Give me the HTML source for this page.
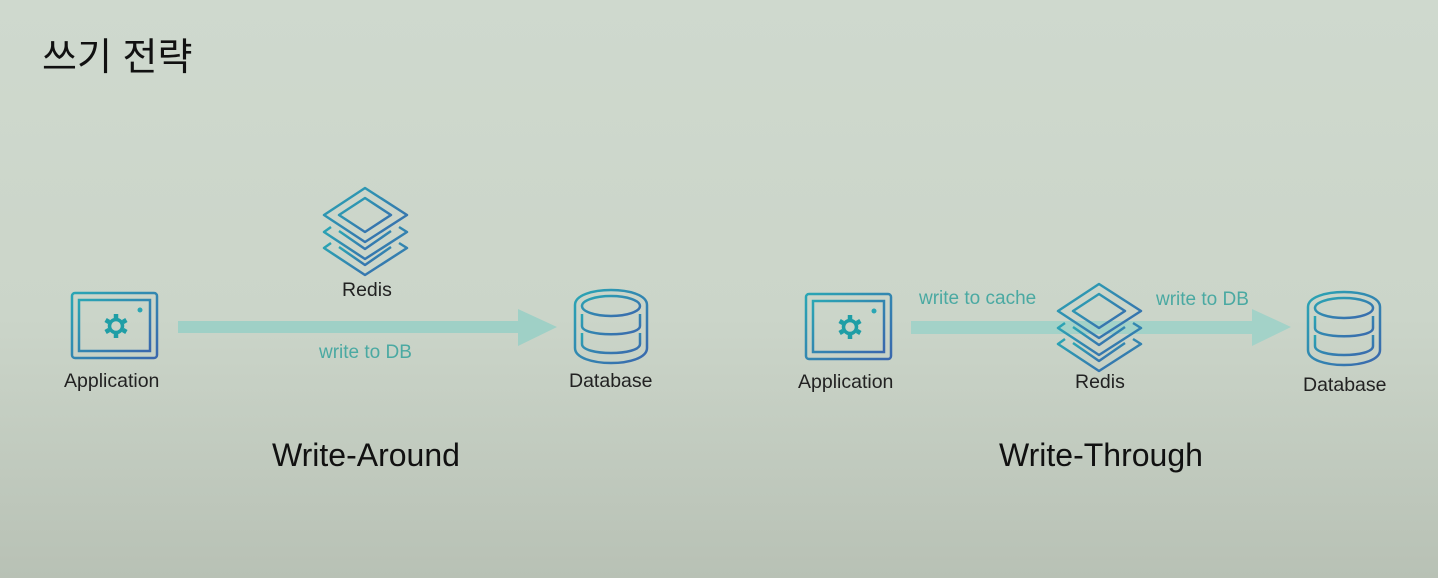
<!DOCTYPE html>
<html><head><meta charset="utf-8"><style>
html,body{margin:0;padding:0}
body{width:1438px;height:578px;overflow:hidden;background:linear-gradient(180deg,#cfd9ce 0%,#cbd5c9 55%,#b8c1b5 100%);font-family:"Liberation Sans","Noto Sans CJK KR",sans-serif;position:relative}
.t{position:absolute;white-space:nowrap}
.lbl{font-size:19.5px;color:#222}
.tl{font-size:19px;color:#4aa9a2}
</style></head><body>
<svg width="1438" height="578" style="position:absolute;left:0;top:0">
<defs>
<linearGradient id="g" x1="0" y1="0" x2="1" y2="1"><stop offset="0" stop-color="#2aa6b4"/><stop offset="1" stop-color="#3a67ad"/></linearGradient>
<g id="app" fill="none" stroke="url(#g)" stroke-width="2.5">
<rect x="0" y="0" width="85" height="65" rx="3"/>
<rect x="7" y="7" width="71" height="51"/>
<circle cx="68" cy="17" r="2.5" fill="#2aa6b4" stroke="none"/>
<g transform="translate(44,33)" stroke="#1f9ea6">
<circle r="6.5" stroke-width="3.5"/>
<g stroke-width="4.5"><line x1="0" y1="-12" x2="0" y2="-8"/><line x1="0" y1="12" x2="0" y2="8"/><line x1="-10.4" y1="-6" x2="-7" y2="-4"/><line x1="10.4" y1="6" x2="7" y2="4"/><line x1="-10.4" y1="6" x2="-7" y2="4"/><line x1="10.4" y1="-6" x2="7" y2="-4"/></g>
</g>
</g>
<g id="db" fill="none" stroke="url(#g)" stroke-width="2.5">
<path d="M2,16 C2,-4 74,-4 74,16 L74,59 C74,79 2,79 2,59 Z"/>
<ellipse cx="38" cy="17" rx="29" ry="10"/>
<path d="M9,25 L9,37 C9,48 67,48 67,37 L67,25"/>
<path d="M9,44 L9,55 C9,67 67,67 67,55 L67,44"/>
</g>
<g id="redis" fill="none" stroke="url(#g)" stroke-width="2.5" stroke-linejoin="round">
<polygon points="42,1 84,28 42,55 1,28"/>
<polygon points="42,11 68,28 42,45 16,28"/>
<polyline points="8,40 1,45 42,72 84,45 76,40"/>
<polyline points="16,44 42,62 68,44"/>
<polyline points="8,56 1,61 42,88 84,61 76,56"/>
<polyline points="16,60 42,78 68,60"/>
</g>
</defs>
<rect x="178" y="321" width="344" height="12" fill="#9fd0c6"/>
<polygon points="518,309 557,327 518,346" fill="#9fd0c6"/>
<use href="#app" x="72" y="293"/>
<use href="#redis" x="323" y="187"/>
<use href="#db" x="573" y="289"/>
<rect x="911" y="321" width="345" height="13" fill="#a3d2c8"/>
<polygon points="1252,309 1291,327 1252,346" fill="#a3d2c8"/>
<use href="#app" x="806" y="294"/>
<use href="#redis" x="1057" y="283"/>
<use href="#db" x="1306" y="291"/>
</svg>
<div class="t" style="left:42px;top:26px;font-size:38px;color:#111">쓰기 전략</div>
<div class="t lbl" style="left:64px;top:370px">Application</div>
<div class="t lbl" style="left:342px;top:279px">Redis</div>
<div class="t tl" style="left:319px;top:342px">write to DB</div>
<div class="t lbl" style="left:569px;top:370px">Database</div>
<div class="t" style="left:272px;top:437px;font-size:32px;color:#111">Write-Around</div>
<div class="t lbl" style="left:798px;top:371px">Application</div>
<div class="t tl" style="left:919px;top:288px">write to cache</div>
<div class="t tl" style="left:1156px;top:289px">write to DB</div>
<div class="t lbl" style="left:1075px;top:371px">Redis</div>
<div class="t lbl" style="left:1303px;top:374px">Database</div>
<div class="t" style="left:999px;top:437px;font-size:32px;color:#111">Write-Through</div>
</body></html>
